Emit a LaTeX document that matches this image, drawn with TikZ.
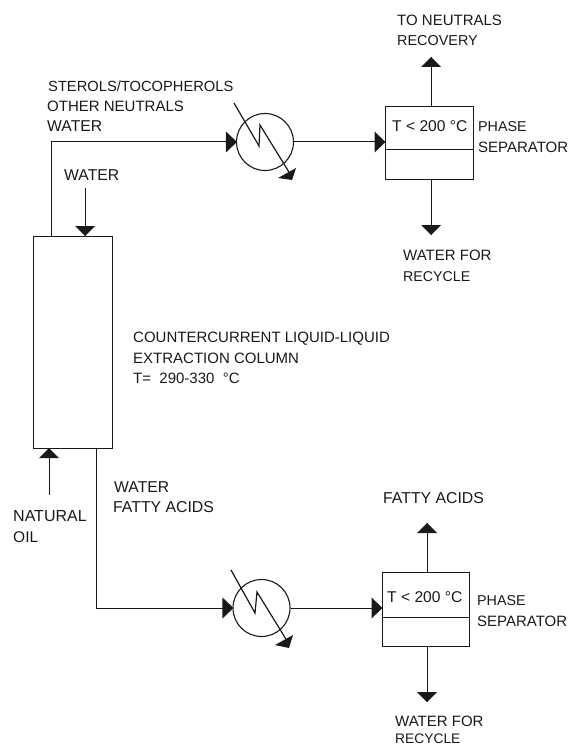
\documentclass[tikz,border=0pt]{standalone}
\usepackage{fontspec}
\setmainfont{Liberation Sans}
\begin{document}
\begin{tikzpicture}[x=1pt,y=-1pt,
  pipe/.style={draw=black!90,line width=1pt},
  boxed/.style={draw=black!90,line width=1pt,inner sep=0pt},
  hxc/.style={circle,draw=black!90,line width=1.1pt,minimum size=57pt,inner sep=0pt},
  lbl/.style={anchor=base west,inner sep=0pt,font=\fontsize{#1}{#1}\selectfont,text=black!90},
  lbl/.default=15,
  headr/.pic={\fill[black!90] (-10,-10.5)--(1,0)--(-10,10.5)--cycle;},
  headu/.pic={\fill[black!90] (-10,10)--(0,0)--(10,10)--cycle;},
  headd/.pic={\fill[black!90] (-10,-10)--(0,0)--(10,-10)--cycle;}]
\useasboundingbox (0,0) rectangle (570,746);
% column
\node[boxed,minimum width=79pt,minimum height=212pt] (col) at (72.5,342) {};
% upper exchanger and separator
\node[hxc] (hxa) at (265,142) {};
\node[boxed,minimum width=88pt,minimum height=72pt] (sepa) at (429,143) {};
\coordinate (sepal) at (385,150);\coordinate (separ) at (473,150);
\draw[pipe] (sepal)--(separ);
% lower exchanger and separator
\node[hxc] (hxb) at (261.5,608) {};
\node[boxed,minimum width=87pt,minimum height=74pt] (sepb) at (425.5,609) {};
\coordinate (sepbl) at (382,617);\coordinate (sepbr) at (469,617);
\draw[pipe] (sepbl)--(sepbr);
% coordinates
\coordinate (c1) at (51,142);
\coordinate (colt1) at (51,236);
\coordinate (w0) at (85,188);\coordinate (w1) at (85,236);
\coordinate (oil0) at (49,495);\coordinate (oil1) at (49,448);
\coordinate (colb) at (96,448);\coordinate (c2) at (96,608);
\coordinate (a1t) at (431,57);\coordinate (a1b) at (431,107);
\coordinate (a2t) at (431,179);\coordinate (a2b) at (431,235);
\coordinate (b1t) at (427,523);\coordinate (b1b) at (427,572);
\coordinate (b2t) at (427,646);\coordinate (b2b) at (427,702);
% pipes
\draw[pipe] (colt1)--(c1)--(hxa.west);
\draw[pipe] (hxa.east)--(sepa.west |- hxa.east);
\draw[pipe] (a1b)--(a1t);\draw[pipe] (a2t)--(a2b);
\draw[pipe] (w0)--(w1);\draw[pipe] (oil0)--(oil1);
\draw[pipe] (colb)--(c2)--(hxb.west);
\draw[pipe] (hxb.east)--(sepb.west |- hxb.east);
\draw[pipe] (b1b)--(b1t);\draw[pipe] (b2t)--(b2b);
% arrowheads
\pic at (hxa.west) {headr};
\pic at (sepa.west |- hxa.east) {headr};
\pic at (hxb.west) {headr};
\pic at (sepb.west |- hxb.east) {headr};
\pic at (a1t) {headu};\pic at (b1t) {headu};\pic at (oil1) {headu};
\pic at (a2b) {headd};\pic at (b2b) {headd};\pic at (w1) {headd};
% exchanger coils
\coordinate (za0) at (234,103);\coordinate (za1) at (259,146);\coordinate (za2) at (260,125);\coordinate (za3) at (292,177);
\draw[pipe,line width=1.2pt,line join=miter] (za0)--(za1)--(za2)--(za3);
\fill[black!90] (296,168)--(278,178)--(292,180)--cycle;
\coordinate (zb0) at (231,570);\coordinate (zb1) at (255,613);\coordinate (zb2) at (257,592);\coordinate (zb3) at (289,644);
\draw[pipe,line width=1.2pt,line join=miter] (zb0)--(zb1)--(zb2)--(zb3);
\fill[black!90] (293,635)--(275,645)--(289,648)--cycle;
% labels
\node[lbl] (t1) at (397,26) {TO NEUTRALS};
\node[lbl=14.4] (t2) at (397,46) {RECOVERY};
\node[lbl=15.6] (t4) at (392,132) {T < 200 °C};
\node[lbl=14.3] (t5) at (478,132) {PHASE};
\node[lbl] (t6) at (478,153) {SEPARATOR};
\node[lbl] (t7) at (403,260) {WATER FOR};
\node[lbl=14.2] (t8) at (403,281) {RECYCLE};
\node[lbl=14.7] (t9) at (48,92) {STEROLS/TOCOPHEROLS};
\node[lbl] (t10) at (47,112) {OTHER NEUTRALS};
\node[lbl=15.7] (t11) at (47,132) {WATER};
\node[lbl=15.7] (t12) at (64,180) {WATER};
\node[lbl] (t13) at (133,342) {COUNTERCURRENT LIQUID-LIQUID};
\node[lbl] (t14) at (133,363) {EXTRACTION COLUMN};
\node[lbl] (t15) at (133,383) {T= \ 290-330 \ °C};
\node[lbl=16] (t16) at (13,521) {NATURAL};
\node[lbl=15.5] (t17) at (13,542) {OIL};
\node[lbl=15.7] (t18) at (114,492) {WATER};
\node[lbl=15.8] (t19) at (113,512) {FATTY ACIDS};
\node[lbl=15.8] (t20) at (383,503) {FATTY ACIDS};
\node[lbl=15.6] (t21) at (387,602) {T < 200 °C};
\node[lbl=14.3] (t22) at (477,605) {PHASE};
\node[lbl] (t23) at (477,626) {SEPARATOR};
\node[lbl] (t24) at (395,726) {WATER FOR};
\node[lbl=13.8] (t25) at (395,743) {RECYCLE};
\end{tikzpicture}
\end{document}
